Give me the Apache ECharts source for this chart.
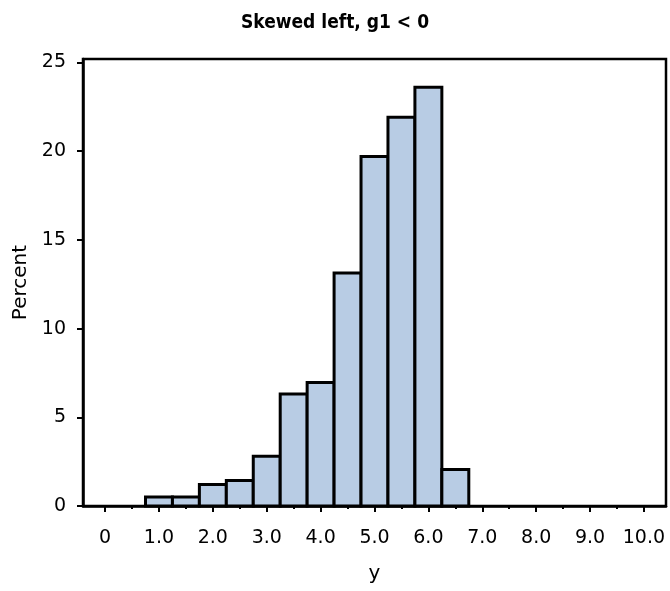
<!DOCTYPE html>
<html>
<head>
<meta charset="utf-8">
<script src="https://cdn.jsdelivr.net/npm/echarts@6/dist/echarts.min.js"></script>
<style>
  html, body { margin: 0; padding: 0; background: #fff; }
  #chart { width: 670px; height: 591px; }
</style>
</head>
<body>
<div id="chart"></div>
<script>
// histogram bins: midpoint, width 0.5
var binMids = [1.0, 1.5, 2.0, 2.5, 3.0, 3.5, 4.0, 4.5, 5.0, 5.5, 6.0, 6.5];
var binPercent = [0.51, 0.51, 1.21, 1.44, 2.81, 6.32, 6.96, 13.14, 19.71, 21.91, 23.61, 2.06];
var binWidth = 0.5;
var xMajorTicks = [0, 1, 2, 3, 4, 5, 6, 7, 8, 9, 10];
var xMinorTicks = [0.5, 1.5, 2.5, 3.5, 4.5, 5.5, 6.5, 7.5, 8.5, 9.5];
var yTicks = [0, 5, 10, 15, 20, 25];

var font = 'DejaVu Sans';
var myChart = echarts.init(document.getElementById('chart'));

var data = binMids.map(function (m, i) {
    return [m - binWidth / 2, m + binWidth / 2, binPercent[i]];
});

var option = {
    animation: false,
    title: {
        text: 'Skewed left, g1 < 0',
        left: 'center',
        top: 9,
        textStyle: { fontFamily: 'DejaVu Sans Condensed', fontWeight: 'bold', fontSize: 19, color: '#000' }
    },
    grid: {
        left: 83, right: 4, top: 59, bottom: 85,
        outerBoundsMode: 'none',
        containLabel: false,
        show: true, borderColor: '#000', borderWidth: 2.5, backgroundColor: '#fff'
    },
    xAxis: [{
        type: 'value',
        min: -0.41, max: 10.41,
        name: 'y',
        nameLocation: 'middle',
        nameGap: 58,
        nameTextStyle: { fontFamily: font, fontSize: 20, color: '#000' },
        axisLine: { show: true, onZero: false, lineStyle: { color: '#000', width: 2.5 } },
        axisTick: { show: true, length: 6, lineStyle: { color: '#000', width: 2 }, customValues: xMajorTicks },
        axisLabel: {
            fontFamily: font, fontSize: 19, color: '#000', margin: 23,
            customValues: xMajorTicks,
            formatter: function (v) { return v === 0 ? '0' : v.toFixed(1); }
        },
        splitLine: { show: false }
    }, {
        type: 'value',
        min: -0.41, max: 10.41,
        position: 'bottom',
        axisLine: { show: false, onZero: false },
        axisTick: { show: true, length: 3, lineStyle: { color: '#000', width: 2 }, customValues: xMinorTicks },
        axisLabel: { show: false },
        splitLine: { show: false }
    }],
    yAxis: {
        type: 'value',
        min: 0, max: 25.2,
        name: 'Percent',
        nameLocation: 'middle',
        nameGap: 46,
        nameTextStyle: { fontFamily: font, fontSize: 20, color: '#000' },
        axisLine: { show: true, onZero: false, lineStyle: { color: '#000', width: 2.5 } },
        axisTick: { show: true, length: 6, lineStyle: { color: '#000', width: 2 }, customValues: yTicks },
        axisLabel: { fontFamily: font, fontSize: 19, color: '#000', margin: 17, customValues: yTicks },
        splitLine: { show: false }
    },
    series: [{
        type: 'custom',
        xAxisIndex: 0,
        renderItem: function (params, api) {
            var p0 = api.coord([api.value(0), api.value(2)]);
            var p1 = api.coord([api.value(1), 0]);
            return {
                type: 'rect',
                shape: { x: p0[0], y: p0[1], width: p1[0] - p0[0], height: p1[1] - p0[1] },
                style: { fill: '#b8cce4', stroke: '#000', lineWidth: 3 }
            };
        },
        encode: { x: [0, 1], y: 2 },
        data: data
    }]
};

myChart.setOption(option);
</script>
</body>
</html>
